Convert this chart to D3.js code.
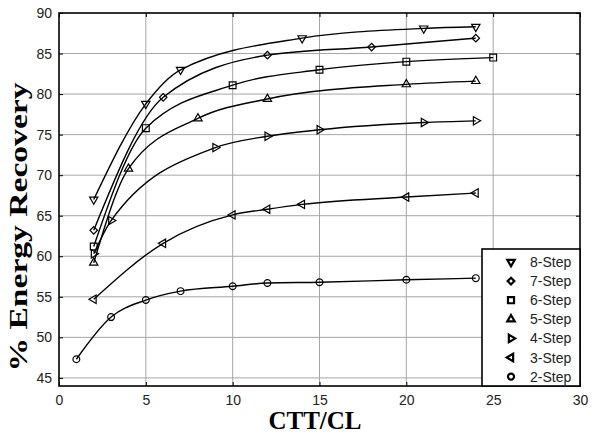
<!DOCTYPE html>
<html>
<head>
<meta charset="utf-8">
<script src="https://cdn.jsdelivr.net/npm/d3@7"></script>
<style>
  body { margin: 0; background: #fff; }
  .tick text { font-family: Arial, "Liberation Sans", sans-serif; font-size: 14px; fill: #222; }
</style>
</head>
<body>
<svg id="chart"></svg>
<script>
// series, top of legend to bottom
const stepNames = ['8-Step', '7-Step', '6-Step', '5-Step', '4-Step', '3-Step', '2-Step'];

const x8 = [2, 5, 7, 14, 21, 24];
const y8 = [67.0, 78.8, 83.0, 86.9, 88.1, 88.3];
const x7 = [2, 6, 12, 18, 24];
const y7 = [63.2, 79.6, 84.8, 85.8, 86.9];
const x6 = [2, 5, 10, 15, 20, 25];
const y6 = [61.2, 75.8, 81.1, 83.0, 84.0, 84.5];
const x5 = [2, 4, 8, 12, 20, 24];
const y5 = [59.2, 70.8, 77.0, 79.4, 81.2, 81.6];
const x4 = [2, 3, 9, 12, 15, 21, 24];
const y4 = [60.3, 64.4, 73.4, 74.8, 75.6, 76.5, 76.7];
const x3 = [2, 6, 10, 12, 14, 20, 24];
const y3 = [54.7, 61.6, 65.1, 65.8, 66.4, 67.3, 67.8];
const x2 = [1, 3, 5, 7, 10, 12, 15, 20, 24];
const y2 = [47.3, 52.5, 54.6, 55.7, 56.3, 56.7, 56.8, 57.1, 57.3];

const xTicks = [0, 5, 10, 15, 20, 25, 30];
const yTicks = [45, 50, 55, 60, 65, 70, 75, 80, 85, 90];

const seriesX = [x8, x7, x6, x5, x4, x3, x2];
const seriesY = [y8, y7, y6, y5, y4, y3, y2];

// marker: d3 symbol type + rotation (matlab v, d, s, ^, >, <, o)
const markerType = [d3.symbolTriangle, d3.symbolSquare, d3.symbolSquare, d3.symbolTriangle,
                    d3.symbolTriangle, d3.symbolTriangle, d3.symbolCircle];
const markerRot = [180, 45, 0, 0, 90, -90, 0];
const markerSize = [30, 28, 46, 30, 30, 30, 36];

const width = 596, height = 434;
const margin = {top: 13, right: 16, bottom: 48, left: 59};
const w = width - margin.left - margin.right;
const h = height - margin.top - margin.bottom;

const svg = d3.select('#chart').attr('width', width).attr('height', height);
const chart = svg.append('g').attr('transform', `translate(${margin.left},${margin.top})`);

const xScale = d3.scaleLinear().domain([0, 30]).range([0, w]);
const yScale = d3.scaleLinear().domain([44, 90]).range([h, 0]);

// grid
chart.append('g').selectAll('line').data(xTicks.slice(1, -1)).join('line')
  .attr('x1', d => xScale(d)).attr('x2', d => xScale(d))
  .attr('y1', 0).attr('y2', h)
  .attr('stroke', '#a6a6a6').attr('stroke-width', 1);
chart.append('g').selectAll('line').data(yTicks.slice(0, -1)).join('line')
  .attr('x1', 0).attr('x2', w)
  .attr('y1', d => yScale(d)).attr('y2', d => yScale(d))
  .attr('stroke', '#a6a6a6').attr('stroke-width', 1);

// axes (ticks inside, matlab style)
const xAxis = d3.axisBottom(xScale).tickValues(xTicks).tickSizeInner(-4).tickSizeOuter(0).tickPadding(9);
const yAxis = d3.axisLeft(yScale).tickValues(yTicks).tickSizeInner(-4).tickSizeOuter(0).tickPadding(7);

chart.append('g').attr('transform', `translate(0,${h})`).call(xAxis)
  .call(g => g.select('.domain').remove());
chart.append('g').call(yAxis)
  .call(g => g.select('.domain').remove());
chart.append('g').call(d3.axisTop(xScale).tickValues(xTicks).tickSize(-4).tickFormat(''))
  .call(g => g.select('.domain').remove());
chart.append('g').attr('transform', `translate(${w},0)`)
  .call(d3.axisRight(yScale).tickValues(yTicks).tickSize(-4).tickFormat(''))
  .call(g => g.select('.domain').remove());
chart.selectAll('.tick line').attr('stroke', '#000');

// lines + markers
const line = d3.line()
  .x(d => xScale(d[0]))
  .y(d => yScale(d[1]))
  .curve(d3.curveMonotoneX);

stepNames.forEach((name, i) => {
  const pts = seriesX[i].map((x, j) => [x, seriesY[i][j]]);
  chart.append('path')
    .datum(pts)
    .attr('fill', 'none')
    .attr('stroke', '#000')
    .attr('stroke-width', 1.4)
    .attr('d', line);
  chart.append('g').selectAll('path').data(pts).join('path')
    .attr('d', d3.symbol().type(markerType[i]).size(markerSize[i]))
    .attr('transform', d => `translate(${xScale(d[0])},${yScale(d[1])}) rotate(${markerRot[i]})`)
    .attr('fill', 'none')
    .attr('stroke', '#000')
    .attr('stroke-width', 1.2);
});

// frame
chart.append('rect')
  .attr('width', w).attr('height', h)
  .attr('fill', 'none').attr('stroke', '#000').attr('stroke-width', 1.6);

// legend
const legend = chart.append('g').attr('transform', `translate(${w - 98},${h - 137})`);
legend.append('rect')
  .attr('width', 98).attr('height', 137)
  .attr('fill', '#fff').attr('stroke', '#000').attr('stroke-width', 1.6);
stepNames.forEach((name, i) => {
  const row = legend.append('g').attr('transform', `translate(0,${13 + i * 19.1})`);
  row.append('path')
    .attr('d', d3.symbol().type(markerType[i]).size(markerSize[i] * 0.8))
    .attr('transform', `translate(29,0) rotate(${markerRot[i]})`)
    .attr('fill', 'none').attr('stroke', '#000').attr('stroke-width', 2.2);
  row.append('text')
    .attr('x', 48).attr('y', 5)
    .attr('font-family', 'Arial, "Liberation Sans", sans-serif')
    .attr('font-size', '14px')
    .attr('fill', '#222')
    .text(name);
});

// axis titles
svg.append('text')
  .attr('x', 315).attr('y', 429)
  .attr('text-anchor', 'middle')
  .attr('font-family', '"Times New Roman", "Liberation Serif", serif')
  .attr('font-weight', 'bold')
  .attr('font-size', '25px')
  .text('CTT/CL');

svg.append('text')
  .attr('transform', 'translate(27,227) rotate(-90)')
  .attr('text-anchor', 'middle')
  .attr('font-family', '"Times New Roman", "Liberation Serif", serif')
  .attr('font-weight', 'bold')
  .attr('font-size', '25px')
  .attr('textLength', 289)
  .attr('lengthAdjust', 'spacingAndGlyphs')
  .text('% Energy Recovery');
</script>
</body>
</html>
